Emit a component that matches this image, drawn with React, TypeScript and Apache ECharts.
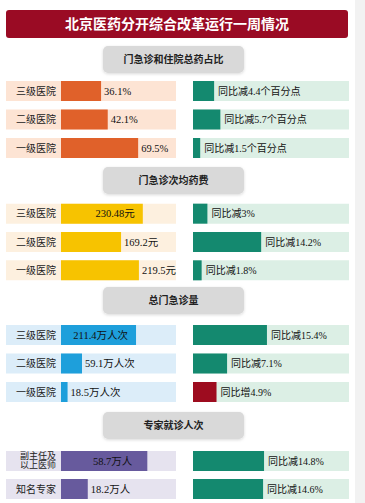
import React, { useEffect, useRef } from "react";
import * as echarts from "echarts";

// ---- data ----
const chartTitle = "北京医药分开综合改革运行一周情况";
const sectionTitles = ["门急诊和住院总药占比", "门急诊次均药费", "总门急诊量", "专家就诊人次"];
const hospitalLevels = ["三级医院", "二级医院", "一级医院"];
const expertLevels = ["副主任及\n以上医师", "知名专家"];

const drugRatio = [36.1, 42.1, 69.5]; // %
const drugRatioChange = [-4.4, -5.7, -1.5]; // percentage points
const avgDrugCost = [230.48, 169.2, 219.5]; // 元
const avgDrugCostChange = [-3, -14.2, -1.8]; // %
const visits = [211.4, 59.1, 18.5]; // 万人次
const visitsChange = [-15.4, -7.1, 4.9]; // %
const expertVisits = [58.7, 18.2]; // 万人
const expertVisitsChange = [-14.8, -14.6]; // %

// ---- layout / style ----
const FONT = '"Liberation Serif", "Noto Sans CJK SC", serif';
const sections = [
  {
    cats: hospitalLevels, values: drugRatio, changes: drugRatioChange,
    unit: "%", changeFmt: (v: number) => `同比${v < 0 ? "减" : "增"}${Math.abs(v)}个百分点`,
    max: 103.6, color: "#e0612a", bg: "#fde4d4", inside: [false, false, false], insideShift: 0,
    top: 76.75, height: 85.5, headerY: 46,
  },
  {
    cats: hospitalLevels, values: avgDrugCost, changes: avgDrugCostChange,
    unit: "元", changeFmt: (v: number) => `同比${v < 0 ? "减" : "增"}${Math.abs(v)}%`,
    max: 324, color: "#f7c300", bg: "#fdf0df", inside: [true, false, false], insideShift: 0,
    top: 199.5, height: 85, headerY: 167,
  },
  {
    cats: hospitalLevels, values: visits, changes: visitsChange,
    unit: "万人次", changeFmt: (v: number) => `同比${v < 0 ? "减" : "增"}${Math.abs(v)}%`,
    max: 324, color: "#1e9fdb", bg: "#dcedf9", inside: [true, false, false], insideShift: 0,
    top: 320.75, height: 85.5, headerY: 287,
  },
  {
    cats: expertLevels, values: expertVisits, changes: expertVisitsChange,
    unit: "万人", changeFmt: (v: number) => `同比${v < 0 ? "减" : "增"}${Math.abs(v)}%`,
    max: 78.2, color: "#675a9d", bg: "#e6e3ef", inside: [true, false], insideShift: -7,
    top: 447, height: 56, headerY: 412,
  },
];
const RIGHT_BG = "#dcefe5";
const GREEN = "#14896f";
const RED = "#9d0c1f";
const RIGHT_MAX = 32.5;

export default function App() {
  const ref = useRef<HTMLDivElement>(null);
  useEffect(() => {
    if (!ref.current) return;
    const chart = echarts.init(ref.current, null, { renderer: "svg" });
    const grid: any[] = [];
    const xAxis: any[] = [];
    const yAxis: any[] = [];
    const series: any[] = [];
    const graphic: any[] = [
      { type: "rect", shape: { x: 355, y: 0, width: 10, height: 503 }, style: { fill: "#f2f2f2" }, silent: true },
      { type: "rect", shape: { x: 6, y: 10, width: 342, height: 28, r: 3 }, style: { fill: "#9a0b24" }, silent: true },
      {
        type: "text", x: 177, y: 24,
        style: { text: chartTitle, fill: "#fff", font: `bold 14px ${FONT}`, align: "center", verticalAlign: "middle" },
        silent: true,
      },
    ];
    sections.forEach((s, i) => {
      graphic.push({
        type: "rect", shape: { x: 103, y: s.headerY, width: 141, height: 27, r: 5 },
        style: { fill: "#d9d9d9", shadowBlur: 3, shadowColor: "rgba(0,0,0,0.15)", shadowOffsetY: 1 }, silent: true,
      });
      graphic.push({
        type: "text", x: 173.5, y: s.headerY + 13.5,
        style: { text: sectionTitles[i], fill: "#222", font: `bold 10px ${FONT}`, align: "center", verticalAlign: "middle" },
        silent: true,
      });
      const li = grid.length;
      grid.push({ left: 61, width: 115, top: s.top, height: s.height });
      grid.push({ left: 193, width: 156, top: s.top, height: s.height });
      xAxis.push({ type: "value", gridIndex: li, min: 0, max: s.max, show: false });
      xAxis.push({ type: "value", gridIndex: li + 1, min: 0, max: RIGHT_MAX, show: false });
      yAxis.push({
        type: "category", gridIndex: li, data: s.cats, inverse: true,
        axisLine: { show: false }, axisTick: { show: false },
        axisLabel: {
          margin: 0, align: "right", width: 50, height: 20, lineHeight: 20,
          padding: [0, 5, 0, 0], backgroundColor: s.bg,
          color: "#222", fontSize: 10, fontFamily: FONT,
          formatter: (v: string) => (v.includes("\n") ? `{s|${v}}` : v),
          rich: { s: { fontSize: 9, lineHeight: 9, fontFamily: FONT, color: "#222", align: "right" } },
        },
      });
      yAxis.push({
        type: "category", gridIndex: li + 1, data: s.cats, inverse: true,
        axisLine: { show: false }, axisTick: { show: false }, axisLabel: { show: false },
      });
      series.push({
        type: "bar", xAxisIndex: li, yAxisIndex: li, barWidth: 20,
        showBackground: true, backgroundStyle: { color: s.bg },
        itemStyle: { color: s.color },
        data: s.values.map((v, k) => ({
          value: v,
          label: s.inside[k]
            ? { position: "insideRight", distance: 8, offset: [s.insideShift, 0] }
            : { position: "right", distance: 3 },
        })),
        label: {
          show: true, color: "#111", fontSize: 10.5, fontFamily: FONT,
          formatter: (p: any) => `${p.value}${s.unit}`,
        },
      });
      series.push({
        type: "bar", xAxisIndex: li + 1, yAxisIndex: li + 1, barWidth: 20,
        showBackground: true, backgroundStyle: { color: RIGHT_BG },
        data: s.changes.map((v) => ({ value: Math.abs(v), change: v, itemStyle: { color: v < 0 ? GREEN : RED } })),
        label: {
          show: true, position: "right", distance: 4, color: "#111", fontSize: 10, fontFamily: FONT,
          formatter: (p: any) => s.changeFmt(p.data.change),
        },
      });
    });
    chart.setOption({
      animation: false,
      backgroundColor: "#ffffff",
      grid, xAxis, yAxis, series, graphic,
    });
    return () => chart.dispose();
  }, []);
  return <div ref={ref} style={{ position: "absolute", left: 0, top: 0, width: 365, height: 503 }} />;
}
